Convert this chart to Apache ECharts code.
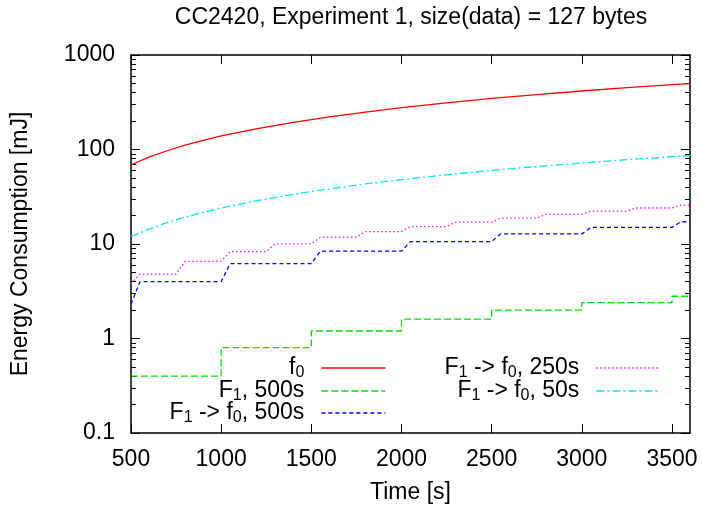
<!DOCTYPE html>
<html>
<head>
<meta charset="utf-8">
<script src="https://cdn.jsdelivr.net/npm/echarts@6/dist/echarts.min.js"></script>
<style>html,body{margin:0;padding:0;background:#fff}#c{width:702px;height:509px}</style>
</head>
<body>
<div id="c"></div>
<script>
// ---- data ----
const titleText = 'CC2420, Experiment 1, size(data) = 127 bytes';
const xTicks = [500, 1000, 1500, 2000, 2500, 3000, 3500];
const yTicks = [0.1, 1, 10, 100, 1000];
const yMinor = [0.2,0.3,0.4,0.5,0.6,0.7,0.8,0.9,2,3,4,5,6,7,8,9,20,30,40,50,60,70,80,90,200,300,400,500,600,700,800,900];

const seriesNames = ['f0', 'F1, 500s', 'F1 -> f0, 500s', 'F1 -> f0, 250s', 'F1 -> f0, 50s'];

const redT = [500, 600, 700, 800, 900, 1000, 1200, 1400, 1600, 1800, 2000, 2250, 2500, 2750, 3000, 3250, 3500, 3600];
const redV = [69, 83, 97, 111, 125, 139, 166, 194, 222, 249, 277, 312, 347, 381, 416, 451, 485, 499];

const greenT = [500, 1000, 1000, 1500, 1500, 2000, 2000, 2500, 2500, 3000, 3000, 3500, 3500, 3600];
const greenV = [0.4, 0.4, 0.8, 0.8, 1.2, 1.2, 1.6, 1.6, 2.0, 2.0, 2.4, 2.4, 2.8, 2.8];

const blueT = [500, 550, 1000, 1050, 1500, 1550, 2000, 2050, 2500, 2550, 3000, 3050, 3500, 3550, 3600];
const blueV = [2.3, 4.0, 4.0, 6.2, 6.2, 8.4, 8.4, 10.6, 10.6, 12.8, 12.8, 15.0, 15.0, 17.2, 17.2];

const magT = [500, 550, 750, 800, 1000, 1050, 1250, 1300, 1500, 1550, 1750, 1800, 2000, 2050, 2250, 2300, 2500, 2550, 2750, 2800, 3000, 3050, 3250, 3300, 3500, 3550, 3600];
const magV = [3.8, 4.8, 4.8, 6.55, 6.55, 8.3, 8.3, 10.05, 10.05, 11.8, 11.8, 13.55, 13.55, 15.3, 15.3, 17.05, 17.05, 18.8, 18.8, 20.55, 20.55, 22.3, 22.3, 24.05, 24.05, 25.8, 25.8];

const cyanT = [500, 600, 700, 800, 900, 1000, 1200, 1400, 1600, 1800, 2000, 2250, 2500, 2750, 3000, 3250, 3500, 3600];
const cyanV = [12, 14.4, 16.8, 19.2, 21.6, 24, 28.8, 33.6, 38.4, 43.2, 48, 54, 60, 66, 72, 78, 84, 86.4];

// ---- chart ----
const FONT = '"Liberation Sans", Arial, sans-serif';
const FS = 23;
const zip = (t, v) => t.map((x, i) => [x, v[i]]);

const richLabels = {
  'f0': '{a|f}{b|0}',
  'F1, 500s': '{a|F}{b|1}{a|, 500s}',
  'F1 -> f0, 500s': '{a|F}{b|1}{a| -> f}{b|0}{a|, 500s}',
  'F1 -> f0, 250s': '{a|F}{b|1}{a| -> f}{b|0}{a|, 250s}',
  'F1 -> f0, 50s': '{a|F}{b|1}{a| -> f}{b|0}{a|, 50s}'
};

const colors = ['#ff0000', '#00e000', '#0000ff', '#ff00ff', '#00e8e8'];
const dashes = ['solid', [7, 3], [4, 3], [1.5, 2.5], [8, 3, 2, 3]];
const datasets = [zip(redT, redV), zip(greenT, greenV), zip(blueT, blueV), zip(magT, magV), zip(cyanT, cyanV)];

const legendPos = [
  {right: 316, top: 355}, {right: 316, top: 378}, {right: 316, top: 400},
  {right: 41, top: 355}, {right: 41, top: 378}
];

const yBase = {type: 'log', logBase: 10, min: 0.1, max: 1000, splitLine: {show: false}, axisLabel: {show: false}};
const axisLineStyle = {show: true, lineStyle: {color: '#000', width: 1.5}};

const option = {
  animation: false,
  backgroundColor: '#fff',
  title: {
    text: titleText, left: 411, top: 6, textAlign: 'center', padding: 0,
    textStyle: {fontFamily: FONT, fontSize: FS, fontWeight: 'normal', color: '#000'}
  },
  grid: {left: 131, right: 12, top: 55, bottom: 76, containLabel: false},
  xAxis: [
    {
      type: 'value', min: 500, max: 3600, interval: 500, position: 'bottom',
      name: 'Time [s]', nameLocation: 'middle', nameGap: 48,
      nameTextStyle: {fontFamily: FONT, fontSize: FS, color: '#000'},
      axisLine: axisLineStyle,
      axisTick: {show: true, inside: true, length: 9, customValues: xTicks, lineStyle: {color: '#000', width: 1}},
      axisLabel: {customValues: xTicks, margin: 15, fontFamily: FONT, fontSize: FS, color: '#000',
        formatter: v => String(v)},
      splitLine: {show: false}
    },
    {
      type: 'value', min: 500, max: 3600, interval: 500, position: 'top',
      axisLine: axisLineStyle,
      axisTick: {show: true, inside: true, length: 9, customValues: xTicks, lineStyle: {color: '#000', width: 1}},
      axisLabel: {show: false}, splitLine: {show: false}
    }
  ],
  yAxis: [
    Object.assign({}, yBase, {
      position: 'left',
      name: 'Energy Consumption [mJ]', nameLocation: 'middle', nameGap: 99, nameRotate: 90,
      nameTextStyle: {fontFamily: FONT, fontSize: FS, color: '#000'},
      axisLine: axisLineStyle,
      axisTick: {show: true, inside: true, length: 9, customValues: yTicks, lineStyle: {color: '#000', width: 1}},
      axisLabel: {show: true, customValues: yTicks, margin: 16, fontFamily: FONT, fontSize: FS, color: '#000',
        formatter: v => String(+Number(v).toPrecision(3))}
    }),
    Object.assign({}, yBase, {
      position: 'left', axisLine: {show: false},
      axisTick: {show: true, inside: true, length: 5, customValues: yMinor, lineStyle: {color: '#000', width: 1}}
    }),
    Object.assign({}, yBase, {
      position: 'right', axisLine: axisLineStyle,
      axisTick: {show: true, inside: true, length: 9, customValues: yTicks, lineStyle: {color: '#000', width: 1}}
    }),
    Object.assign({}, yBase, {
      position: 'right', axisLine: {show: false},
      axisTick: {show: true, inside: true, length: 5, customValues: yMinor, lineStyle: {color: '#000', width: 1}}
    })
  ],
  legend: seriesNames.map((n, i) => ({
    data: [n], orient: 'vertical', align: 'right', selectedMode: false,
    right: legendPos[i].right, top: legendPos[i].top, padding: 0,
    itemWidth: 64, itemHeight: 12,
    itemStyle: {opacity: 0, borderWidth: 0},
    lineStyle: {width: 1.3},
    formatter: name => richLabels[name],
    textStyle: {
      fontFamily: FONT, fontSize: FS, color: '#000', padding: [0, 12, 0, 0],
      rich: {
        a: {fontFamily: FONT, fontSize: FS, color: '#000', lineHeight: 26},
        b: {fontFamily: FONT, fontSize: 16, color: '#000', lineHeight: 16, padding: [10, 0, 0, 0]}
      }
    }
  })),
  series: seriesNames.map((n, i) => ({
    name: n, type: 'line', xAxisIndex: 0, yAxisIndex: 0,
    data: datasets[i], symbol: 'none', smooth: false,
    lineStyle: {color: colors[i], width: 1.3, type: dashes[i]},
    itemStyle: {color: colors[i]}
  }))
};

const chart = echarts.init(document.getElementById('c'), null, {renderer: 'canvas'});
chart.setOption(option);
</script>
</body>
</html>
